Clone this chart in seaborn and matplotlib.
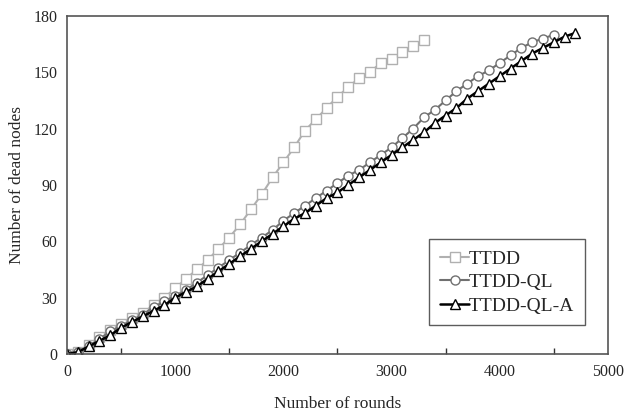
import numpy as np
import pandas as pd
import seaborn as sns
import matplotlib.pyplot as plt

# values, one point every 100 rounds
rounds_ttdd = list(range(0, 3400, 100))
ttdd = [0, 1, 5, 9, 13, 16, 19, 22, 26, 30, 35, 40, 45, 50, 56, 62, 69, 77,
        85, 94, 102, 110, 119, 125, 131, 137, 142, 147, 150, 155, 157, 161, 164, 167]

rounds_ql = list(range(0, 4600, 100))
ttdd_ql = [0, 1, 4, 8, 12, 15, 18, 21, 25, 28, 31, 34, 38, 42, 46, 50, 54, 58,
           62, 66, 71, 75, 79, 83, 87, 91, 95, 98, 102, 106, 110, 115, 120, 126,
           130, 135, 140, 144, 148, 151, 155, 159, 163, 166, 168, 170]

rounds_qla = list(range(0, 4800, 100))
ttdd_ql_a = [0, 1, 4, 7, 10, 14, 17, 20, 23, 26, 30, 33, 36, 40, 44, 48, 52, 56,
             60, 64, 68, 72, 75, 79, 83, 86, 90, 94, 98, 102, 106, 110, 114, 118,
             123, 127, 131, 136, 140, 144, 148, 152, 156, 160, 163, 166, 169, 171]

series = [
    ("TTDD", rounds_ttdd, ttdd, "s", "#b0b0b0", 1.5),
    ("TTDD-QL", rounds_ql, ttdd_ql, "o", "#707070", 1.5),
    ("TTDD-QL-A", rounds_qla, ttdd_ql_a, "^", "#000000", 1.8),
]

sns.set_style("white")
plt.rcParams["font.family"] = ["Liberation Serif", "DejaVu Serif"]

fig = plt.figure(figsize=(6.29, 4.15), dpi=100)
ax = fig.add_axes([0.1065, 0.147, 0.86, 0.8145])

for name, x, y, marker, color, lw in series:
    df = pd.DataFrame({"rounds": x, "dead": y})
    sns.lineplot(data=df, x="rounds", y="dead", ax=ax, label=name,
                 color=color, linewidth=lw, marker=marker, markersize=6.5,
                 markerfacecolor="white", markeredgecolor=color,
                 markeredgewidth=1.0)

ax.set_xlim(0, 5000)
ax.set_ylim(0, 180)
ax.set_xticks(np.arange(0, 5001, 1000))
ax.set_xticks(np.arange(500, 5000, 1000), minor=True)
ax.set_yticks(np.arange(0, 181, 30))
ax.tick_params(axis="both", which="both", direction="in", labelsize=11.5,
               color="#333333", width=1.0)
ax.tick_params(axis="both", which="major", length=5, pad=7)
ax.tick_params(axis="x", which="minor", length=4, bottom=True)
for s in ax.spines.values():
    s.set_color("#555555")
    s.set_linewidth(1.2)

ax.set_xlabel("Number of rounds", fontsize=12.5)
ax.xaxis.set_label_coords(0.5, -0.125)
ax.set_ylabel("Number of dead nodes", fontsize=12.5, labelpad=6)

leg = ax.legend(loc="lower right", bbox_to_anchor=(0.958, 0.085), fontsize=14,
                frameon=True, fancybox=False, handlelength=1.5,
                handletextpad=0.0, borderpad=0.55, labelspacing=0.3,
                borderaxespad=0)
leg.get_frame().set_edgecolor("#333333")
leg.get_frame().set_linewidth(1.0)

fig.savefig("out.png", dpi=100)
